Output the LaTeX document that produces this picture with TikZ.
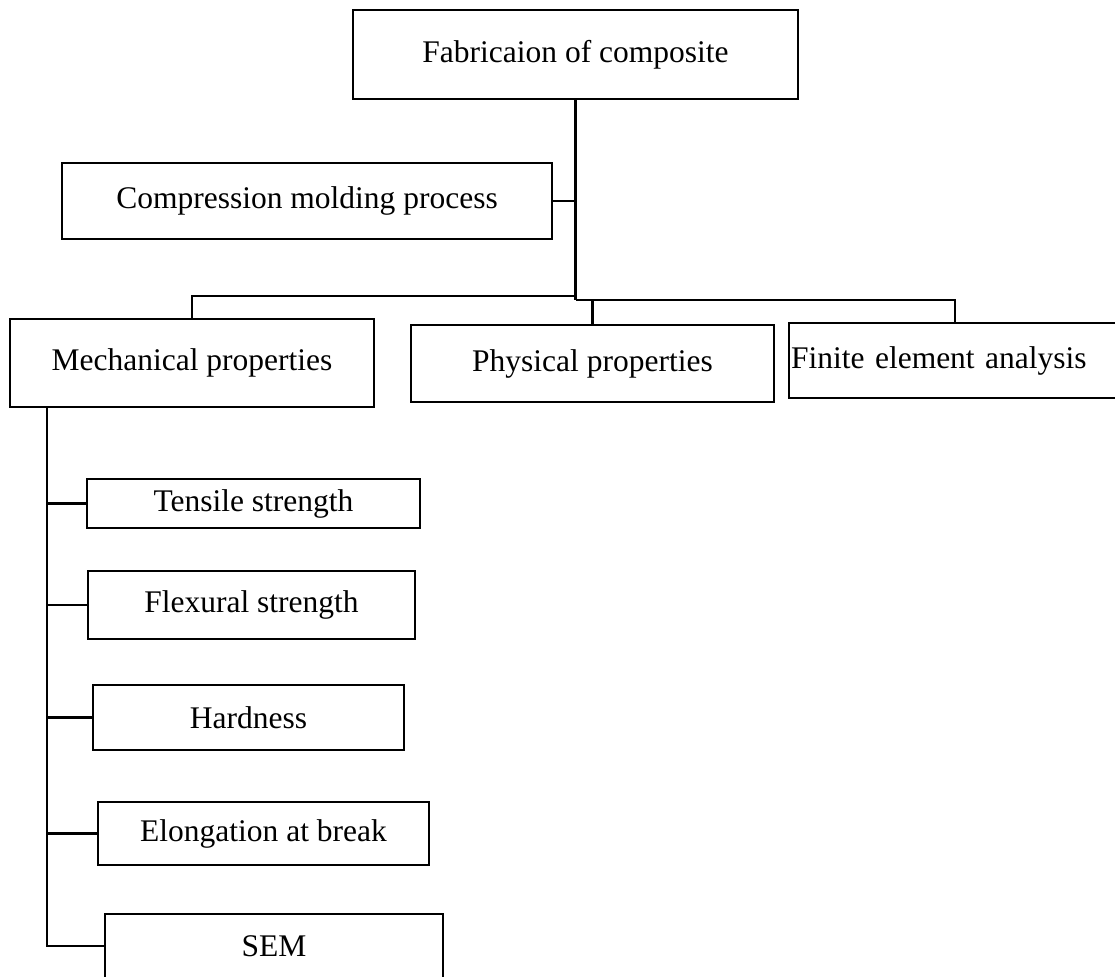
\documentclass[tikz,border=0pt]{standalone}
\usepackage{fontspec}
\setmainfont{Liberation Serif}
\usetikzlibrary{positioning}

\begin{document}
\begin{tikzpicture}[x=1pt, y=-1pt,
    blk/.style={draw=black, line width=2.5pt, inner sep=0pt, font=\fontsize{31.5}{38}\selectfont},
    link/.style={draw=black, line width=2.5pt},
    trunk/.style={draw=black, line width=3.4pt}]
    \useasboundingbox (0,0) rectangle (1115,976);
    \node[blk, minimum width=445pt, minimum height=89pt] (fab) at (575.5, 54.5) {Fabricaion of composite};
    \node[blk, minimum width=490pt, minimum height=76pt] (comp) at (307, 201) {Compression molding process};
    \node[blk, minimum width=364pt, minimum height=88pt] (mech) at (192, 363) {Mechanical properties};
    \node[blk, minimum width=363pt, minimum height=77pt] (phys) at (592.5, 363.5) {Physical properties};
    \node[blk, minimum height=75pt, text width=328pt, inner xsep=2pt, align=left] (fea) at (955, 360.5) {Finite element analysis};
    \node[blk, minimum width=333pt, minimum height=49pt] (tens) at (253.5, 503.5) {Tensile strength};
    \node[blk, minimum width=327pt, minimum height=68pt] (flex) at (251.5, 605) {Flexural strength};
    \node[blk, minimum width=311pt, minimum height=65pt] (hard) at (248.5, 717.5) {Hardness};
    \node[blk, minimum width=331pt, minimum height=63pt] (elong) at (263.5, 833.5) {Elongation at break};
    \node[blk, minimum width=338pt, minimum height=64pt] (sem) at (274, 946) {SEM};
    \coordinate (hub) at (576, 300);
    \coordinate (hubl) at (576, 296);
    \coordinate (spine) at (47, 946);

    \draw[trunk] (fab.south) -- (fab.south |- hub);
    \draw[link]
    (comp.east) -- (comp.east -| hub)
    (hubl) -| (mech.north)
    (hub) -| (fea.north)
    (phys.north |- hub) -- (phys.north)
    (mech.south -| spine) -- (spine) -- (sem.west);
    \foreach \b in {tens, flex, hard, elong}
        \draw[link] (\b.west -| spine) -- (\b.west);
\end{tikzpicture}
\end{document}
